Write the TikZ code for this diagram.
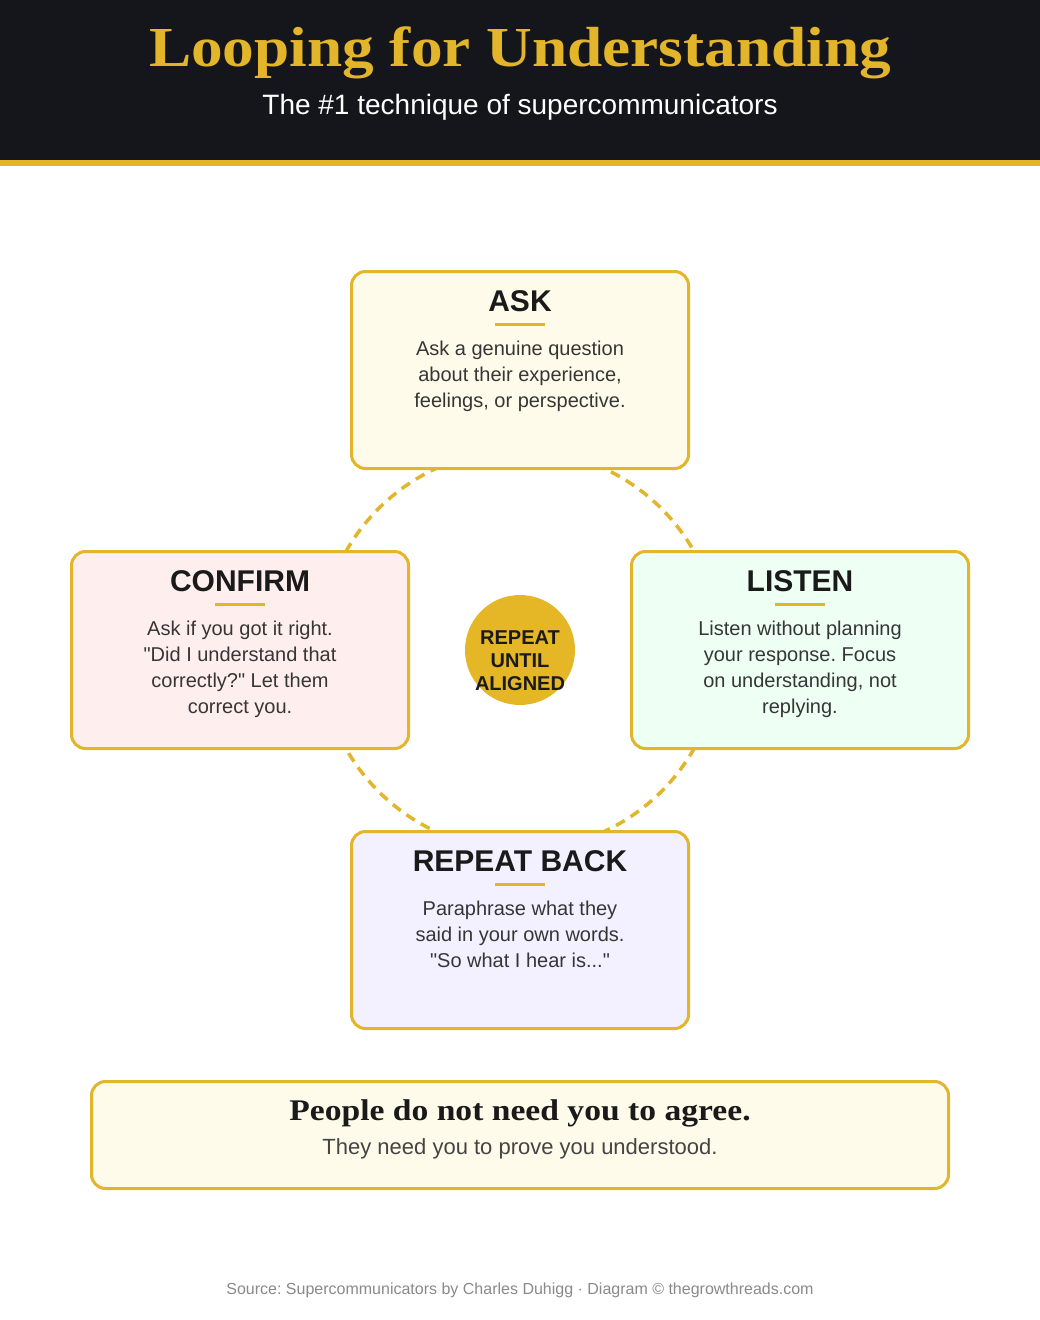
\documentclass[tikz,border=0pt]{standalone}
\usepackage{fontspec}
\setmainfont{Liberation Sans}[Ligatures=TeXOff]
\newfontfamily\headserif{Liberation Serif}[FakeStretch=1.12]
\usetikzlibrary{calc,backgrounds}
\definecolor{gold}{HTML}{E3B52B}
\definecolor{hdr}{HTML}{15161B}
\definecolor{ink}{HTML}{1A1A1A}
\definecolor{bodytxt}{HTML}{363636}
\definecolor{softtxt}{HTML}{444444}
\definecolor{foottxt}{HTML}{8A8A8A}
\definecolor{askfill}{HTML}{FFFBEB}
\definecolor{confirmfill}{HTML}{FFEEEE}
\definecolor{listenfill}{HTML}{EEFFF4}
\definecolor{repeatfill}{HTML}{F3F0FF}
\definecolor{hubfill}{HTML}{E5B726}
\tikzset{
  card/.style={draw=gold, line width=3pt, rounded corners=14pt, minimum width=337pt, minimum height=197pt, inner sep=0pt},
  cardtitle/.style={font=\fontsize{30}{32}\selectfont\bfseries, text=ink, anchor=base, inner sep=0pt},
  cardbody/.style={font=\fontsize{20}{26}\selectfont, text=bodytxt, align=center, anchor=north, inner sep=0pt},
  rulebar/.style={draw=gold, line width=3pt},
  loopline/.style={draw=gold, line width=3.5pt, dash pattern=on 10pt off 7pt},
  hub/.style={circle, fill=hubfill, minimum size=110pt, inner sep=0pt},
  hubtext/.style={font=\fontsize{20}{23}\selectfont\bfseries, text=ink, align=center, inner sep=0pt},
  maintitle/.style={font=\headserif\fontsize{56.5}{60}\selectfont\bfseries, text=gold, anchor=base, inner sep=0pt},
  subtitle/.style={font=\fontsize{28}{30}\selectfont, text=white, anchor=base, inner sep=0pt},
  quotehead/.style={font=\headserif\fontsize{30}{32}\selectfont\bfseries, text=ink, anchor=base, inner sep=0pt},
  quotesub/.style={font=\fontsize{22}{24}\selectfont, text=softtxt, anchor=base, inner sep=0pt},
  footer/.style={font=\fontsize{16}{18}\selectfont, text=foottxt, anchor=base, inner sep=0pt}
}
\begin{document}
\frenchspacing
\begin{tikzpicture}[x=1pt,y=-1pt]
\useasboundingbox (0,0) rectangle (1040,1320);
\node[maintitle] (title) at (520,66) {Looping for Understanding};
\node[subtitle] (sub) at (520,114) {The \#1 technique of supercommunicators};

\node[card, fill=askfill] (ask) at (520,370) {};
\node[card, fill=confirmfill] (confirm) at (240,650) {};
\node[card, fill=listenfill] (listen) at (800,650) {};
\node[card, fill=repeatfill] (repeat) at (520,930) {};
\node[hub] (hub) at (520,650) {};
\node[hubtext] (hubT) at ($(hub.center)+(0,11)$) {REPEAT\\UNTIL\\ALIGNED};

\begin{scope}[on background layer]
\fill[white] (0,0) rectangle (1040,1320);
\fill[hdr] (0,0) rectangle (1040,160);
\fill[gold] (0,160) rectangle (1040,166);
\draw[loopline] (hub.center) circle[radius=200];
\end{scope}

\foreach \n/\t in {ask/ASK, confirm/CONFIRM, listen/LISTEN, repeat/REPEAT BACK}{
  \node[cardtitle] (\n T) at ($(\n.north)+(0,41)$) {\t};
  \draw[rulebar] ($(\n T.base)+(-25,13)$) -- ++(50,0);
}
\node[cardbody] (askB) at ($(ask.north)+(0,71)$) {Ask a genuine question\\about their experience,\\feelings, or perspective.};
\node[cardbody] (confirmB) at ($(confirm.north)+(0,71)$) {Ask if you got it right.\\"Did I understand that\\correctly?" Let them\\correct you.};
\node[cardbody] (listenB) at ($(listen.north)+(0,71)$) {Listen without planning\\your response. Focus\\on understanding, not\\replying.};
\node[cardbody] (repeatB) at ($(repeat.north)+(0,71)$) {Paraphrase what they\\said in your own words.\\"So what I hear is..."};

\node[card, fill=askfill, minimum width=857pt, minimum height=107pt] (quote) at (520,1135) {};
\node[quotehead] (quoteH) at (520,1120) {People do not need you to agree.};
\node[quotesub] (quoteS) at (520,1154) {They need you to prove you understood.};

\node[footer] (src) at (520,1294) {Source: Supercommunicators by Charles Duhigg · Diagram © thegrowthreads.com};
\end{tikzpicture}
\end{document}
